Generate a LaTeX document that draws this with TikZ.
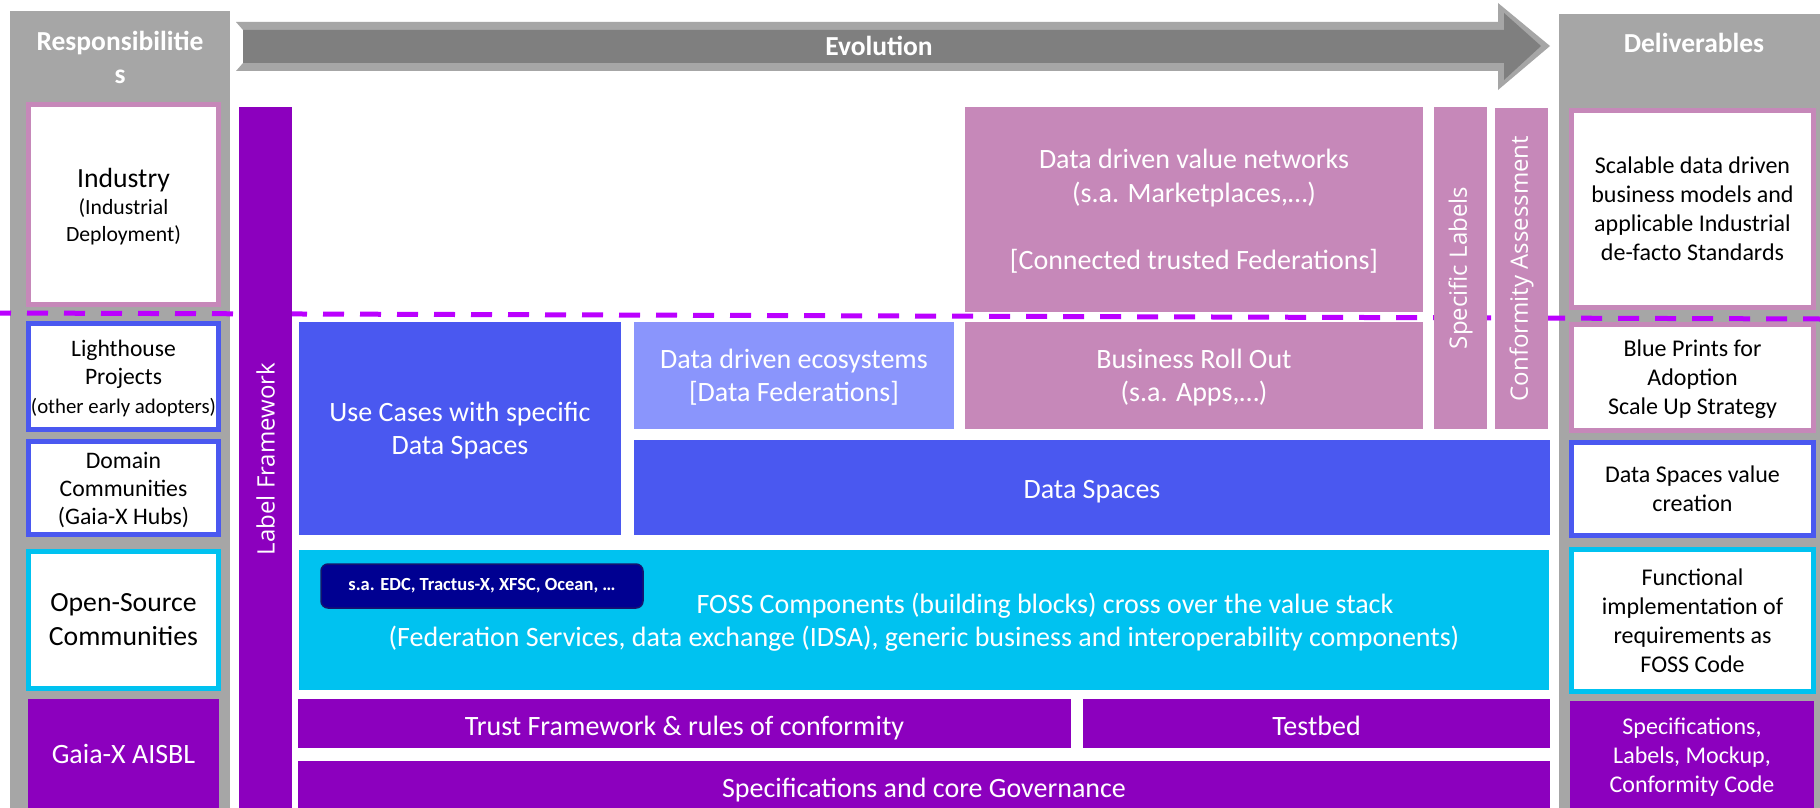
\documentclass[tikz,border=0pt]{standalone}
\usepackage{fontspec}
\setmainfont{Carlito}
\newfontfamily\rotfont{Open Sans}
\definecolor{colgray}{RGB}{166,166,166}
\definecolor{arrowdark}{RGB}{127,127,127}
\definecolor{gxpurple}{RGB}{140,0,190}
\definecolor{mauve}{RGB}{198,136,185}
\definecolor{dsblue}{RGB}{74,88,240}
\definecolor{lightblue}{RGB}{138,149,252}
\definecolor{gxcyan}{RGB}{0,194,240}
\definecolor{navy}{RGB}{0,0,145}
\definecolor{navyborder}{RGB}{20,20,110}
\definecolor{dashcol}{RGB}{187,0,255}
\newcommand\gxbig{\fontsize{28}{33.5}\selectfont}
\newcommand\gxbold{\bfseries\fontsize{27.5}{33}\selectfont}
\newcommand\gxmid{\fontsize{24}{29}\selectfont}
\newcommand\gxrot{\rotfont\fontsize{24}{28}\selectfont}
\begin{document}
\begin{tikzpicture}[x=1pt,y=-1pt,
  fbox/.style={inner sep=0pt, outer sep=0pt, align=center, text=white},
  wbox/.style={inner sep=0pt, outer sep=0pt, align=center, fill=white, text=black, line width=5pt},
  multi/.style={text depth=0pt},
]
\useasboundingbox (0,0) rectangle (1820,808);
\fill[white] (0,0) rectangle (1820,808);

% side columns
\node[fbox, fill=colgray, minimum width=220pt, minimum height=797pt] (lcol) at (120,409.5) {};
\node[fbox, fill=colgray, minimum width=261pt, minimum height=794pt] (rcol) at (1689.5,411) {};
\node[fbox, font=\gxbold] (resp) at (120,57) {Responsibilitie\\s};
\node[fbox, font=\gxbold] (deliv) at (1694,42.5) {Deliverables};

% evolution arrow
\fill[colgray] (236,22) -- (243,30) -- (243,63) -- (236,71) -- (1498,71) -- (1498,90) -- (1550,46) -- (1498,3) -- (1498,22) -- cycle;
\fill[arrowdark] (243,30) -- (1504,30) -- (1504,13) -- (1541,46) -- (1504,80) -- (1504,63) -- (243,63) -- cycle;
\node[fbox, font=\gxbold] (evo) at (879,46) {Evolution};

% dashed separation line
\coordinate (dl) at (0,313);
\coordinate (dr) at (1820,319);
\draw[dashcol, line width=5pt, dash pattern=on 21pt off 16pt, dash phase=10pt] (dl) -- (dr);

% left responsibilities
\node[wbox, multi, draw=mauve, minimum width=190pt, minimum height=200pt, font=\fontsize{21.7}{27}\selectfont] (ind) at (123.5,204.5) {{\fontsize{27.7}{27}\selectfont Industry}\\(Industrial\\Deployment)};
\node[wbox, multi, draw=dsblue, minimum width=190pt, minimum height=106pt, font=\fontsize{23.6}{28.5}\selectfont] (light) at (123.5,376.5) {Lighthouse\\Projects\\{\fontsize{20.8}{27}\selectfont (other early adopters)}};
\node[wbox, multi, draw=dsblue, minimum width=190pt, minimum height=93pt, font=\fontsize{23.7}{28}\selectfont] (dom) at (123.5,488) {Domain\\Communities\\(Gaia-X Hubs)};
\node[wbox, multi, draw=gxcyan, minimum width=190pt, minimum height=137pt, font=\fontsize{27.7}{34}\selectfont] (oss) at (123.5,620) {Open-Source\\Communities};
\node[fbox, fill=gxpurple, minimum width=191pt, minimum height=110pt, font=\gxbig] (aisbl) at (123.5,754) {Gaia-X AISBL};

% right deliverables
\node[wbox, multi, draw=mauve, minimum width=242pt, minimum height=197pt, font=\gxmid] (scal) at (1692.5,209) {Scalable data driven\\business models and\\applicable Industrial\\de-facto Standards};
\node[wbox, multi, draw=mauve, minimum width=242pt, minimum height=106pt, font=\gxmid] (blue) at (1692.5,377.5) {Blue Prints for\\Adoption\\Scale Up Strategy};
\node[wbox, multi, draw=dsblue, minimum width=242pt, minimum height=93pt, font=\gxmid] (dsv) at (1692.5,489) {Data Spaces value\\creation};
\node[wbox, multi, draw=gxcyan, minimum width=242pt, minimum height=142pt, font=\gxmid] (func) at (1692.5,620.5) {Functional\\implementation of\\requirements as\\FOSS Code};
\node[fbox, multi, fill=gxpurple, minimum width=244pt, minimum height=108pt, font=\gxmid] (specd) at (1692,755) {Specifications,\\Labels, Mockup,\\Conformity Code};

% vertical bars
\node[fbox, fill=gxpurple, rotate=90, minimum width=704pt, minimum height=53pt, font=\gxrot] (lfw) at (265.5,459) {Label Framework};
\node[fbox, fill=mauve, rotate=90, minimum width=322pt, minimum height=53pt, font=\gxrot] (spl) at (1460.5,268) {Specific Labels};
\node[fbox, fill=mauve, rotate=90, minimum width=321pt, minimum height=53pt, font=\gxrot] (conf) at (1521.5,268.5) {Conformity Assessment};

% value stack
\node[fbox, multi, fill=mauve, minimum width=458pt, minimum height=205pt, font=\gxbig] (ddvn) at (1194,209.5) {Data driven value networks\\(s.a. Marketplaces,…)\\[33.5pt]{[}Connected trusted Federations{]}};
\node[fbox, multi, fill=dsblue, minimum width=322pt, minimum height=213pt, font=\gxbig] (uc) at (460,428.5) {Use Cases with specific\\Data Spaces};
\node[fbox, multi, fill=lightblue, minimum width=320pt, minimum height=107pt, font=\gxbig] (dde) at (794,375.5) {Data driven ecosystems\\{[}Data Federations{]}};
\node[fbox, multi, fill=mauve, minimum width=458pt, minimum height=107pt, font=\gxbig] (bro) at (1194,375.5) {Business Roll Out\\(s.a. Apps,…)};
\node[fbox, fill=dsblue, minimum width=916pt, minimum height=95pt, font=\gxbig, text height=21pt, text depth=0pt] (ds) at (1092,487.5) {Data Spaces};
\node[fbox, multi, fill=gxcyan, minimum width=1250pt, minimum height=140pt, font=\gxbig] (foss) at (924,620) {\hspace*{242pt}FOSS Components (building blocks) cross over the value stack\\(Federation Services, data exchange (IDSA), generic business and interoperability components)};
\node[fbox, fill=navy, draw=navyborder, line width=1.5pt, rounded corners=7pt, minimum width=322pt, minimum height=44pt, font=\bfseries\fontsize{18.5}{22}\selectfont] (edc) at (482,586) {s.a. EDC, Tractus-X, XFSC, Ocean, …};
\node[fbox, fill=gxpurple, minimum width=773pt, minimum height=49pt, font=\gxbig, text height=23pt, text depth=0pt] (trust) at (684.5,723.5) {Trust Framework \& rules of conformity};
\node[fbox, fill=gxpurple, minimum width=467pt, minimum height=49pt, font=\gxbig, text height=23pt, text depth=0pt] (test) at (1316.5,723.5) {Testbed};
\node[fbox, fill=gxpurple, minimum width=1252pt, minimum height=50pt, font=\gxbig, text height=22pt, text depth=0pt] (gov) at (924,786) {Specifications and core Governance};
\end{tikzpicture}
\end{document}
